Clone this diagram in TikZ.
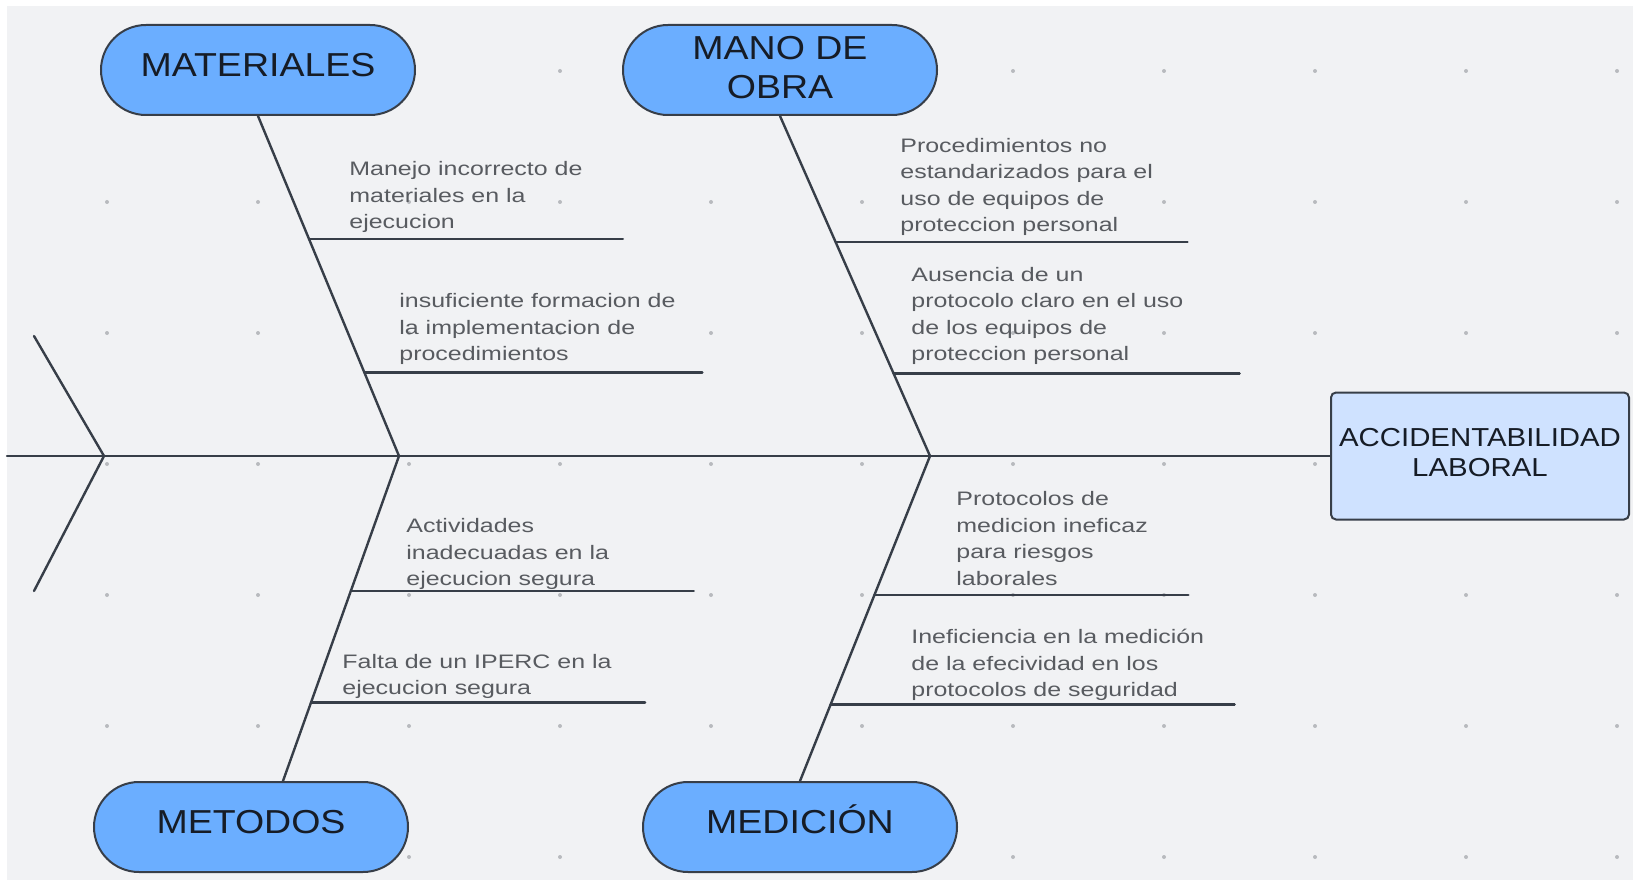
\documentclass[tikz,border=0pt]{standalone}
\usepackage{fontspec}
\usepackage{tikz}
\usepackage{tkz-euclide}
\usetikzlibrary{calc}
\usetikzlibrary{positioning}

\newfontfamily\headfont{Liberation Sans}[FakeStretch=1.13]
\newfontfamily\notefont{Liberation Sans}[FakeStretch=1.28]

\definecolor{paper}{RGB}{241,242,244}
\definecolor{dotgray}{RGB}{184,186,190}
\definecolor{ink}{RGB}{55,62,72}
\definecolor{catblue}{RGB}{107,174,255}
\definecolor{effblue}{RGB}{207,226,255}
\definecolor{headink}{RGB}{22,28,38}
\definecolor{notegray}{RGB}{88,91,96}

\begin{document}
\begin{tikzpicture}[%
  x=0.5pt, y=-0.5pt,
  bone/.style={color=ink, line width=1.2pt},
  category/.style={draw=ink, line width=1pt, fill=catblue, rounded corners=22.5pt,
    minimum width=157pt, minimum height=45pt, inner sep=0pt, align=center,
    text height=11.9pt, text depth=5pt,
    text=headink, font=\headfont\fontsize{16.6}{19.3}\selectfont},
  effect/.style={draw=ink, line width=1pt, fill=effblue, rounded corners=2.5pt,
    minimum width=149pt, minimum height=63.5pt, inner sep=0pt, align=center,
    text height=24.3pt, text depth=4pt,
    text=headink, font=\headfont\fontsize{13}{15}\selectfont},
  cause/.style={anchor=south west, inner sep=0pt, align=left,
    text=notegray, font=\notefont\fontsize{9.75}{13.25}\selectfont},
]

  \useasboundingbox (0,0) rectangle (1633,882);
  \fill[white] (0,0) rectangle (1633,882);
  \fill[paper] (7,6) rectangle (1633,880);
  \foreach \i in {0,...,10}
    \foreach \j in {0,...,6}
      \fill[dotgray] ({107+151*\i},{71+131*\j}) circle (1pt);

  \node[category] (mat)  at (258,70)  {MATERIALES};
  \node[category, text height=31.2pt, text depth=3pt] (mano) at (780,70) {MANO DE\\OBRA};
  \node[category] (met)  at (251,827) {METODOS};
  \node[category] (med)  at (800,827) {MEDICIÓN};
  \node[effect]   (acc)  at (1480,456) {ACCIDENTABILIDAD\\LABORAL};

  \coordinate (MA) at (mat.south);
  \coordinate (MB) at (mano.south);
  \coordinate (MC) at ($(met.north)+(32,0)$);
  \coordinate (MD) at (med.north);
  \coordinate (E)  at (acc.west);

  \tkzDefPoint(7,456){W}
  \tkzDefPoint(104,456){T}
  \tkzDefPoint(34,336){TU}
  \tkzDefPoint(34,591){TL}
  \tkzDefPoint(399,456){S1}
  \tkzDefPoint(930,456){S2}

  \tkzDrawSegment[bone](W,E)
  \tkzDrawSegments[bone](TU,T T,TL)
  \tkzDrawSegments[bone](MA,S1 MB,S2 S1,MC S2,MD)

  \tkzDefPointOnLine[pos=0.639](S1,MA)\tkzGetPoint{A1}
  \tkzDefPointOnLine[pos=0.246](S1,MA)\tkzGetPoint{A2}
  \tkzDefShiftPoint[A1](314,0){A1e}
  \tkzDefShiftPoint[A2](338,0){A2e}
  \tkzDrawSegments[bone](A1,A1e A2,A2e)

  \tkzDefPointOnLine[pos=0.630](S2,MB)\tkzGetPoint{B1}
  \tkzDefPointOnLine[pos=0.243](S2,MB)\tkzGetPoint{B2}
  \tkzDefShiftPoint[B1](352,0){B1e}
  \tkzDefShiftPoint[B2](346,0){B2e}
  \tkzDrawSegments[bone](B1,B1e B2,B2e)

  \tkzDefPointOnLine[pos=0.416](S1,MC)\tkzGetPoint{C1}
  \tkzDefPointOnLine[pos=0.758](S1,MC)\tkzGetPoint{C2}
  \tkzDefShiftPoint[C1](343,0){C1e}
  \tkzDefShiftPoint[C2](334,0){C2e}
  \tkzDrawSegments[bone](C1,C1e C2,C2e)

  \tkzDefPointOnLine[pos=0.428](S2,MD)\tkzGetPoint{D1}
  \tkzDefPointOnLine[pos=0.765](S2,MD)\tkzGetPoint{D2}
  \tkzDefShiftPoint[D1](314,0){D1e}
  \tkzDefShiftPoint[D2](404,0){D2e}
  \tkzDrawSegments[bone](D1,D1e D2,D2e)

  \node[cause] (matA)  at (349,233) {Manejo incorrecto de\\materiales en la\\ejecucion};
  \node[cause] (matB)  at (399,365) {insuficiente formacion de\\la implementacion de\\procedimientos};
  \node[cause] (manoA) at (900,236) {Procedimientos no\\estandarizados para el\\uso de equipos de\\proteccion personal};
  \node[cause] (manoB) at (911,365) {Ausencia de un\\protocolo claro en el uso\\de los equipos de\\proteccion personal};
  \node[cause] (metA)  at (406,590) {Actividades\\inadecuadas en la\\ejecucion segura};
  \node[cause] (metB)  at (342,699) {Falta de un IPERC en la\\ejecucion segura};
  \node[cause] (medA)  at (956,586) {Protocolos de\\medicion ineficaz\\para riesgos\\laborales};
  \node[cause] (medB)  at (911,701) {Ineficiencia en la medición\\de la efecividad en los\\protocolos de seguridad};

\end{tikzpicture}
\end{document}
